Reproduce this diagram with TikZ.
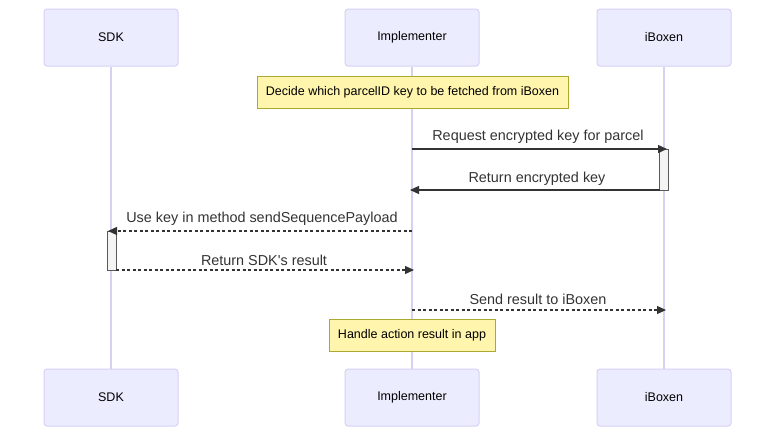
\documentclass[tikz,border=0pt]{standalone}
\usepackage{fontspec}
\setmainfont{Liberation Sans}
\usetikzlibrary{arrows.meta}
\definecolor{actfill}{HTML}{ECECFF}
\definecolor{actline}{HTML}{D7D0F5}
\definecolor{notefill}{HTML}{FFF5AD}
\definecolor{noteline}{HTML}{AAAA33}
\definecolor{txt}{HTML}{333333}
\definecolor{actvfill}{HTML}{F4F4F4}
\begin{document}
\begin{tikzpicture}[x=1pt,y=-1pt,
  actor/.style={draw=actline,fill=actfill,rounded corners=3pt,line width=1pt,minimum width=134pt,minimum height=57pt,inner sep=0pt,font=\fontsize{12.5}{14}\selectfont,text=black},
  notebox/.style={draw=noteline,fill=notefill,line width=0.8pt,minimum height=32pt,inner sep=0pt,font=\fontsize{12.5}{14}\selectfont,text=black},
  life/.style={draw=actline,line width=1.5pt},
  msg/.style={draw=txt,line width=1.3pt,-{Triangle[length=9pt,width=8pt]}},
  dmsg/.style={msg,dash pattern=on 3pt off 2.5pt},
  lbl/.style={font=\fontsize{14.4}{16}\selectfont,text=txt,inner sep=0pt},
  actv/.style={draw=gray!70!black,fill=actvfill,line width=0.8pt}]
\useasboundingbox (0,0) rectangle (784,442);
% actors
\node[actor] (sdkT) at (111,37.5) {SDK};
\node[actor] (impT) at (412,37.5) {Implementer};
\node[actor] (ibxT) at (664,37.5) {iBoxen};
\node[actor] (sdkB) at (111,397.5) {SDK};
\node[actor] (impB) at (412,397.5) {Implementer};
\node[actor] (ibxB) at (664,397.5) {iBoxen};
% lifelines
\draw[life] (sdkT.south) -- (sdkB.north);
\draw[life] (impT.south) -- (impB.north);
\draw[life] (ibxT.south) -- (ibxB.north);
% note 1
\node[notebox,minimum width=311pt] (n1) at (412.5,92) {Decide which parcelID key to be fetched from iBoxen};
% activations
\node[actv,minimum width=9pt,minimum height=41pt,inner sep=0pt] (a1) at (664,169.5) {};
\node[actv,minimum width=9pt,minimum height=39pt,inner sep=0pt] (a2) at (111.5,250.5) {};
% coordinates
\coordinate (m1s) at (412,149); \coordinate (m1e) at (667,149);
\coordinate (m2s) at (659.5,190); \coordinate (m2e) at (410,190);
\coordinate (m3s) at (412,231); \coordinate (m3e) at (108,231);
\coordinate (m4s) at (116,270); \coordinate (m4e) at (414,270);
\coordinate (m5s) at (412,310); \coordinate (m5e) at (666,310);
\draw[msg] (m1s) -- (m1e);
\draw[msg] (m2s) -- (m2e);
\draw[dmsg] (m3s) -- (m3e);
\draw[dmsg] (m4s) -- (m4e);
\draw[dmsg] (m5s) -- (m5e);
\node[lbl] (l1) at (538,136.5) {Request encrypted key for parcel};
\node[lbl] (l2) at (537,178.5) {Return encrypted key};
\node[lbl] (l3) at (262,219) {Use key in method sendSequencePayload};
\node[lbl] (l4) at (264,260.5) {Return SDK\textquotesingle s result};
\node[lbl] (l5) at (538,299.5) {Send result to iBoxen};
% note 2
\node[notebox,minimum width=166pt] (n2) at (412,335) {Handle action result in app};
\end{tikzpicture}
\end{document}
